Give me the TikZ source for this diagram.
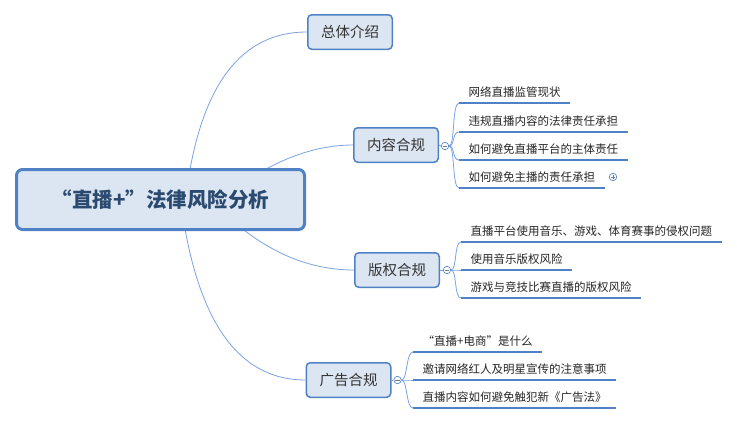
\documentclass[tikz,border=0pt]{standalone}
\usepackage{fontspec}
\setmainfont{Noto Sans CJK SC}
\usetikzlibrary{calc}
\definecolor{boxfill}{HTML}{DCE6F2}
\definecolor{boxline}{HTML}{4F81C4}
\definecolor{curvecol}{HTML}{7BA3E3}
\definecolor{ulinecol}{HTML}{4F81C4}
\definecolor{roottext}{HTML}{2B4A70}
\definecolor{cattext}{HTML}{333333}
\definecolor{signcol}{HTML}{6B7F9A}
\pgfdeclarelayer{bg}
\pgfsetlayers{bg,main}
\tikzset{
  rootbox/.style={draw=boxline, fill=boxfill, line width=3pt, rounded corners=6pt,
    minimum width=288pt, minimum height=60pt, inner sep=0pt, text=roottext,
    font=\fontsize{20.5}{24}\selectfont\bfseries},
  catbox/.style={draw=boxline, fill=boxfill, line width=1.5pt, rounded corners=4pt,
    minimum width=84.5pt, minimum height=34.5pt, inner sep=0pt, text=cattext,
    font=\fontsize{14.5}{17}\selectfont},
  childtext/.style={anchor=south west, inner xsep=9.5pt, inner ysep=0pt,
    text height=9pt, text depth=6pt, text=black!85,
    font=\fontsize{11.5}{13}\selectfont},
  curve/.style={draw=curvecol, line width=0.8pt},
  uline/.style={draw=ulinecol, line width=2pt},
  tog/.style={circle, draw=boxline, fill=white, line width=0.6pt, minimum size=7.5pt, inner sep=0pt},
  minusicon/.style={tog, path picture={
    \draw[signcol, line width=0.6pt] ([xshift=1.6pt]path picture bounding box.west) -- ([xshift=-1.6pt]path picture bounding box.east);}},
  plusicon/.style={tog, path picture={
    \draw[signcol, line width=0.6pt] ([xshift=1.6pt]path picture bounding box.west) -- ([xshift=-1.6pt]path picture bounding box.east);
    \draw[signcol, line width=0.6pt] ([yshift=-1.6pt]path picture bounding box.north) -- ([yshift=1.6pt]path picture bounding box.south);}},
}
\begin{document}
\begin{tikzpicture}[x=1pt,y=-1pt]
\useasboundingbox (0,0) rectangle (737,423);

% main nodes
\node[rootbox] (root) at (160.5,199.5) {“直播+”法律风险分析};
\node[catbox] (zt) at (350,32) {总体介绍};
\node[catbox] (nr) at (396,145) {内容合规};
\node[catbox] (bq) at (397,270) {版权合规};
\node[catbox] (gg) at (348.5,380) {广告合规};

% collapse toggles
\node[minusicon] (nrc) at ($(nr.east)+(6,1)$) {};
\node[minusicon] (bqc) at ($(bq.east)+(7,0)$) {};
\node[minusicon] (ggc) at ($(gg.east)+(6,0)$) {};
\draw[curve] (nr.east) -- (nrc.west);
\draw[curve] (bq.east) -- (bqc.west);
\draw[curve] (gg.east) -- (ggc.west);

% children of 内容合规
\node[childtext] (n1) at (459,103) {网络直播监管现状};
\node[childtext] (n2) at (459,132) {违规直播内容的法律责任承担};
\node[childtext] (n3) at (459,160) {如何避免直播平台的主体责任};
\node[childtext] (n4) at (459,188) {如何避免主播的责任承担};
\node[plusicon] (n4p) at (613,177) {};

% children of 版权合规
\node[childtext] (b1) at (461,242) {直播平台使用音乐、游戏、体育赛事的侵权问题};
\node[childtext] (b2) at (461,270) {使用音乐版权风险};
\node[childtext] (b3) at (461,298) {游戏与竞技比赛直播的版权风险};

% children of 广告合规
\node[childtext] (g1) at (413,352) {“直播+电商”是什么};
\node[childtext] (g2) at (413,380) {邀请网络红人及明星宣传的注意事项};
\node[childtext] (g3) at (413,408) {直播内容如何避免触犯新《广告法》};

% underlines
\foreach \c in {n1,n2,n3,n4,b1,b2,b3,g1,g2,g3}
  \draw[uline] (\c.south west) -- (\c.south east);

\begin{pgfonlayer}{bg}
\fill[white] (0,0) rectangle (737,423);
% root branches
\draw[curve] ($(root.center)+(25,0)$) .. controls +(13.3,-111.3) and +(-68,0) .. (zt.west);
\draw[curve] ($(root.center)+(60,0)$) .. controls +(45.3,-36) and +(-43.3,0) .. (nr.west);
\draw[curve] ($(root.center)+(50,0)$) .. controls +(43.3,46) and +(-52.7,0) .. (bq.west);
\draw[curve] ($(root.center)+(20,0)$) .. controls +(15.3,119.3) and +(-68.7,0) .. (gg.west);
% sub branches
\foreach \c in {n1,n2,n3,n4}
  \draw[curve] (nrc.east) .. controls +(6,0) and +(-7,0) .. (\c.south west);
\foreach \c in {b1,b2,b3}
  \draw[curve] (bqc.east) .. controls +(6,0) and +(-7,0) .. (\c.south west);
\foreach \c in {g1,g2,g3}
  \draw[curve] (ggc.east) .. controls +(6,0) and +(-7,0) .. (\c.south west);
\end{pgfonlayer}
\end{tikzpicture}
\end{document}
